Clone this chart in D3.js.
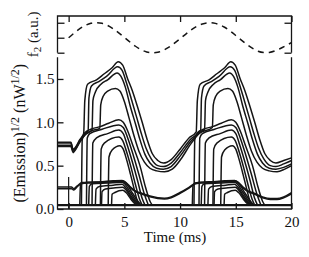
<!DOCTYPE html>
<html>
<head>
<meta charset="utf-8">
<script src="https://cdn.jsdelivr.net/npm/d3@7"></script>
<style>
  body { margin: 0; background: #fff; }
  text { font-family: "Liberation Serif", "Times New Roman", serif; fill: #111; }
</style>
</head>
<body>
<svg id="chart" width="309" height="257"></svg>
<script>
// ---- data ----
const xTicks = [0, 5, 10, 15, 20];
const yTicks = [0, 0.5, 1.0, 1.5];
const fTicks = [-1, 0, 1];

// f2 modulation (top panel), a.u.
const f2Time = [0, 1, 2, 3, 4, 5, 6, 7, 8, 9, 10, 11, 12, 13, 14, 15, 16, 17, 18, 19, 20];
const f2Value = [0, 0.6, 0.96, 0.96, 0.6, 0.02, -0.57, -0.95, -0.97, -0.63, -0.07,
                 0.52, 0.92, 0.98, 0.7, 0.15, -0.45, -0.9, -0.98, -0.72, -0.32];

// traces [time ms, sqrt emission] - upper branch
const upperTraces = [
  [[-1,0.77],[0.2,0.77],[0.4,0.69],[0.6,0.71],[1.0,0.8],[1.35,0.87],[1.45,1.25],[1.7,1.44],[2.5,1.49],[3.2,1.56],[3.9,1.63],[4.45,1.70],[4.85,1.66],[5.3,1.5],[5.7,1.37],[6.2,1.17],[6.6,1.0],[7.05,0.8],[7.5,0.64],[8.0,0.56],[8.5,0.53],[9.2,0.57],[10.0,0.69],[10.8,0.82],[11.45,0.89],
   [11.55,1.25],[11.8,1.44],[12.6,1.49],[13.3,1.56],[14.0,1.63],[14.55,1.70],[14.95,1.66],[15.4,1.5],[15.8,1.37],[16.3,1.17],[16.7,1.0],[17.15,0.8],[17.6,0.64],[18.1,0.56],[18.6,0.53],[19.3,0.56],[20,0.59]],
  [[-1,0.76],[0.2,0.76],[0.4,0.68],[0.6,0.7],[1.0,0.79],[1.4,0.86],[1.75,0.9],[1.82,1.28],[2.05,1.42],[2.7,1.47],[3.4,1.53],[4.4,1.64],[4.8,1.6],[5.2,1.45],[5.6,1.28],[6.1,1.06],[6.5,0.88],[6.95,0.7],[7.4,0.58],[8.0,0.5],[8.5,0.49],[9.2,0.53],[10.0,0.65],[10.9,0.8],[11.85,0.91],
   [11.92,1.28],[12.15,1.42],[12.8,1.47],[13.5,1.53],[14.5,1.64],[14.9,1.6],[15.3,1.45],[15.7,1.28],[16.2,1.06],[16.6,0.88],[17.05,0.7],[17.5,0.58],[18.1,0.5],[18.6,0.49],[19.3,0.52],[20,0.56]],
  [[-1,0.735],[0.2,0.735],[0.4,0.665],[0.6,0.69],[1.0,0.78],[1.5,0.86],[2.1,0.91],[2.18,1.25],[2.4,1.35],[2.9,1.44],[3.5,1.49],[4.35,1.57],[4.7,1.53],[5.1,1.4],[5.5,1.2],[6.0,0.98],[6.4,0.8],[6.85,0.63],[7.3,0.53],[7.9,0.47],[8.5,0.46],[9.2,0.49],[10.0,0.61],[10.9,0.77],[11.7,0.88],[12.2,0.92],
   [12.28,1.25],[12.5,1.35],[13.0,1.44],[13.6,1.49],[14.45,1.57],[14.8,1.53],[15.2,1.4],[15.6,1.2],[16.1,0.98],[16.5,0.8],[16.95,0.63],[17.4,0.53],[18.0,0.47],[18.6,0.46],[19.3,0.48],[20,0.52]],
  [[-1,0.72],[0.2,0.72],[0.4,0.65],[0.6,0.68],[1.0,0.77],[1.5,0.86],[2.0,0.9],[2.8,0.93],[2.88,1.2],[3.1,1.3],[3.5,1.36],[4.2,1.39],[4.6,1.36],[5.0,1.24],[5.4,1.06],[5.9,0.83],[6.3,0.67],[6.8,0.54],[7.3,0.47],[7.9,0.44],[8.6,0.43],[9.3,0.46],[10.1,0.58],[10.9,0.74],[11.7,0.87],[12.9,0.94],
   [12.98,1.2],[13.2,1.3],[13.6,1.36],[14.3,1.39],[14.7,1.36],[15.1,1.24],[15.5,1.06],[16.0,0.83],[16.4,0.67],[16.9,0.54],[17.4,0.47],[18.0,0.44],[18.7,0.43],[19.4,0.46],[20,0.5]]
];

// middle branch, switching on from zero
const middleTraces = [
  [[1.15,0.045],[1.22,0.8],[1.45,0.88],[2.0,0.92],[2.8,0.95],[3.6,0.99],[4.5,1.03],[4.9,1.0],[5.3,0.9],[5.8,0.72],[6.4,0.5],[6.9,0.25],[7.3,0.09],[7.5,0.045]],
  [[11.25,0.045],[11.32,0.8],[11.55,0.88],[12.1,0.92],[12.9,0.95],[13.7,0.99],[14.6,1.03],[15.0,1.0],[15.4,0.9],[15.9,0.72],[16.5,0.5],[17.0,0.25],[17.4,0.09],[17.6,0.045]],
  [[1.6,0.045],[1.67,0.82],[1.9,0.87],[3.0,0.92],[4.5,0.97],[4.9,0.94],[5.3,0.82],[5.8,0.62],[6.3,0.4],[6.8,0.17],[7.15,0.045]],
  [[11.7,0.045],[11.77,0.82],[12.0,0.87],[13.1,0.92],[14.6,0.97],[15.0,0.94],[15.4,0.82],[15.9,0.62],[16.4,0.4],[16.9,0.17],[17.25,0.045]],
  [[2.1,0.045],[2.17,0.76],[2.5,0.82],[3.5,0.87],[4.5,0.91],[4.9,0.87],[5.25,0.74],[5.7,0.55],[6.2,0.32],[6.6,0.12],[6.85,0.045]],
  [[12.2,0.045],[12.27,0.76],[12.6,0.82],[13.6,0.87],[14.6,0.91],[15.0,0.87],[15.35,0.74],[15.8,0.55],[16.3,0.32],[16.7,0.12],[16.95,0.045]],
  [[2.85,0.045],[2.92,0.69],[3.2,0.76],[4.5,0.83],[4.85,0.79],[5.2,0.66],[5.6,0.48],[6.0,0.28],[6.4,0.1],[6.6,0.045]],
  [[12.95,0.045],[13.02,0.69],[13.3,0.76],[14.6,0.83],[14.95,0.79],[15.3,0.66],[15.7,0.48],[16.1,0.28],[16.5,0.1],[16.7,0.045]],
  [[3.55,0.045],[3.62,0.6],[3.9,0.68],[4.6,0.73],[4.9,0.69],[5.2,0.57],[5.55,0.4],[5.9,0.22],[6.2,0.08],[6.35,0.045]],
  [[13.65,0.045],[13.72,0.6],[14.0,0.68],[14.7,0.73],[15.0,0.69],[15.3,0.57],[15.65,0.4],[16.0,0.22],[16.3,0.08],[16.45,0.045]]
];

// lower branch
const lowerTraces = [
  [[-1,0.255],[0.25,0.255],[0.45,0.235],[0.8,0.27],[1.2,0.305],[2.0,0.31],[3.0,0.315],[4.0,0.325],[4.8,0.33],[5.1,0.31],[5.5,0.26],[6.0,0.21],[6.6,0.18],[7.3,0.15],[8.0,0.13],[8.6,0.125],[9.2,0.14],[10.0,0.19],[10.8,0.25],[11.4,0.3],[12.0,0.31],[13.0,0.315],[14.0,0.325],[14.9,0.33],[15.2,0.31],[15.6,0.26],[16.1,0.21],[16.7,0.18],[17.4,0.14],[18.1,0.12],[18.7,0.12],[19.3,0.14],[20,0.19]],
  [[-1,0.235],[0.25,0.235],[0.45,0.22],[0.8,0.26],[1.2,0.295],[2.0,0.3],[3.0,0.305],[4.0,0.315],[4.8,0.32],[5.1,0.3],[5.5,0.25],[6.0,0.2],[6.6,0.17],[7.3,0.14],[8.0,0.12],[8.6,0.115],[9.2,0.13],[10.0,0.18],[10.8,0.24],[11.4,0.29],[12.0,0.3],[13.0,0.305],[14.0,0.315],[14.9,0.32],[15.2,0.3],[15.6,0.25],[16.1,0.2],[16.7,0.17],[17.4,0.13],[18.1,0.11],[18.7,0.11],[19.3,0.13],[20,0.175]],
  [[1.0,0.045],[1.06,0.27],[1.3,0.3],[2.5,0.31],[4.0,0.32],[4.8,0.325],[5.15,0.3],[5.6,0.21],[6.1,0.11],[6.5,0.045]],
  [[11.1,0.045],[11.16,0.27],[11.4,0.3],[12.6,0.31],[14.1,0.32],[14.9,0.325],[15.25,0.3],[15.7,0.21],[16.2,0.11],[16.6,0.045]],
  [[1.8,0.045],[1.86,0.26],[2.1,0.29],[3.5,0.3],[4.8,0.31],[5.1,0.28],[5.55,0.19],[6.0,0.1],[6.4,0.045]],
  [[11.9,0.045],[11.96,0.26],[12.2,0.29],[13.6,0.3],[14.9,0.31],[15.2,0.28],[15.65,0.19],[16.1,0.1],[16.5,0.045]],
  [[2.4,0.045],[2.46,0.23],[2.75,0.26],[4.0,0.275],[4.8,0.285],[5.1,0.25],[5.55,0.16],[6.0,0.08],[6.3,0.045]],
  [[12.5,0.045],[12.56,0.23],[12.85,0.26],[14.1,0.275],[14.9,0.285],[15.2,0.25],[15.65,0.16],[16.1,0.08],[16.4,0.045]],
  [[2.95,0.045],[3.0,0.2],[3.3,0.23],[4.2,0.245],[4.85,0.25],[5.15,0.22],[5.6,0.13],[6.0,0.07],[6.2,0.045]],
  [[13.05,0.045],[13.1,0.2],[13.4,0.23],[14.3,0.245],[14.95,0.25],[15.25,0.22],[15.7,0.13],[16.1,0.07],[16.3,0.045]],
  [[3.85,0.045],[3.9,0.17],[4.15,0.19],[4.85,0.215],[5.15,0.19],[5.6,0.11],[5.95,0.06],[6.1,0.045]],
  [[13.95,0.045],[14.0,0.17],[14.25,0.19],[14.95,0.215],[15.25,0.19],[15.7,0.11],[16.05,0.06],[16.2,0.045]]
];

// "off" traces lying near zero
const zeroTraces = [
  [[-1,0.04],[20,0.04]],
  [[-1,0.05],[20,0.05]]
];

// trigger mark at t = 0
const markTime = [0];
const markTop = [0.37];

// ---- drawing ----
const svg = d3.select('#chart');
const left = 57.5, right = 291.5;
const top1 = 16, bot1 = 52.7, top2 = 57.3, bot2 = 209;
const ink = '#151515';
const fontSize = 15;

const x = d3.scaleLinear().domain([-1, 20]).range([left, right]);
const yTop = d3.scaleLinear().domain([-1, 1.45]).range([bot1, top1]);
const y = d3.scaleLinear().domain([0, 1.75]).range([bot2, top2]);

// frames
svg.append('path')
  .attr('d', `M${left},${bot1}V${top1}H${right}V${bot1}`)
  .attr('fill', 'none').attr('stroke', ink).attr('stroke-width', 1.3);
svg.append('path')
  .attr('d', `M${left},${top2}V${bot2}H${right}V${top2}`)
  .attr('fill', 'none').attr('stroke', ink).attr('stroke-width', 1.3);

function tidy(g) {
  g.select('.domain').remove();
  g.selectAll('.tick line').attr('stroke', ink).attr('stroke-width', 1.3);
  g.selectAll('text').attr('font-size', fontSize).attr('font-family', '"Liberation Serif", serif').attr('fill', ink);
}

// top panel ticks
svg.append('g').attr('transform', `translate(0,${top1})`)
  .call(d3.axisTop(x).tickValues(xTicks).tickSize(-6).tickFormat(''))
  .call(tidy);
svg.append('g').attr('transform', `translate(${left},0)`)
  .call(d3.axisLeft(yTop).tickValues(fTicks).tickSize(-7).tickFormat(''))
  .call(tidy);
svg.append('g').attr('transform', `translate(${right},0)`)
  .call(d3.axisRight(yTop).tickValues([-1, 1]).tickSize(-7).tickFormat(''))
  .call(tidy);

// bottom panel axes
svg.append('g').attr('transform', `translate(0,${bot2})`)
  .call(d3.axisBottom(x).tickValues(xTicks).tickSize(-6).tickPadding(7).tickFormat(d3.format('d')))
  .call(tidy);
svg.append('g').attr('transform', `translate(${left},0)`)
  .call(d3.axisLeft(y).tickValues(yTicks).tickSize(-6).tickPadding(3).tickFormat(d3.format('.1f')))
  .call(tidy);

// f2 dashed curve
const fLine = d3.line()
  .x((d, i) => x(f2Time[i]))
  .y(d => yTop(d))
  .curve(d3.curveNatural);
svg.append('path')
  .datum(f2Value)
  .attr('d', fLine)
  .attr('fill', 'none')
  .attr('stroke', ink)
  .attr('stroke-width', 1.5)
  .attr('stroke-dasharray', '6,5');

// emission traces
const line = d3.line()
  .x(d => x(d[0]))
  .y(d => y(d[1]))
  .curve(d3.curveMonotoneX);

const allTraces = zeroTraces.concat(lowerTraces, middleTraces, upperTraces);
svg.append('g').selectAll('path')
  .data(allTraces)
  .join('path')
  .attr('d', line)
  .attr('fill', 'none')
  .attr('stroke', ink)
  .attr('stroke-width', 1.5)
  .attr('stroke-linejoin', 'round');

svg.append('g').selectAll('line')
  .data(markTime)
  .join('line')
  .attr('x1', d => x(d)).attr('x2', d => x(d))
  .attr('y1', y(0)).attr('y2', (d, i) => y(markTop[i]))
  .attr('stroke', ink).attr('stroke-width', 1.2);

// axis titles
svg.append('text')
  .attr('x', (x(-1) + x(20)) / 2 + 0.5)
  .attr('y', 242)
  .attr('text-anchor', 'middle')
  .attr('font-size', fontSize)
  .text('Time (ms)');

const yLab = svg.append('text')
  .attr('transform', `translate(25,${(top2 + bot2) / 2}) rotate(-90)`)
  .attr('text-anchor', 'middle')
  .attr('font-size', 16);
yLab.append('tspan').text('(Emission)');
yLab.append('tspan').attr('font-size', 12).attr('dy', -6).text('1/2');
yLab.append('tspan').attr('dy', 6).text(' (nW');
yLab.append('tspan').attr('font-size', 12).attr('dy', -6).text('1/2');
yLab.append('tspan').attr('dy', 6).text(')');

const fLab = svg.append('text')
  .attr('transform', `translate(38,${(top1 + bot1) / 2}) rotate(-90)`)
  .attr('text-anchor', 'middle')
  .attr('font-size', fontSize);
fLab.append('tspan').text('f');
fLab.append('tspan').attr('font-size', 11).attr('dy', 3).text('2');
fLab.append('tspan').attr('dy', -3).text(' (a.u.)');
</script>
</body>
</html>
